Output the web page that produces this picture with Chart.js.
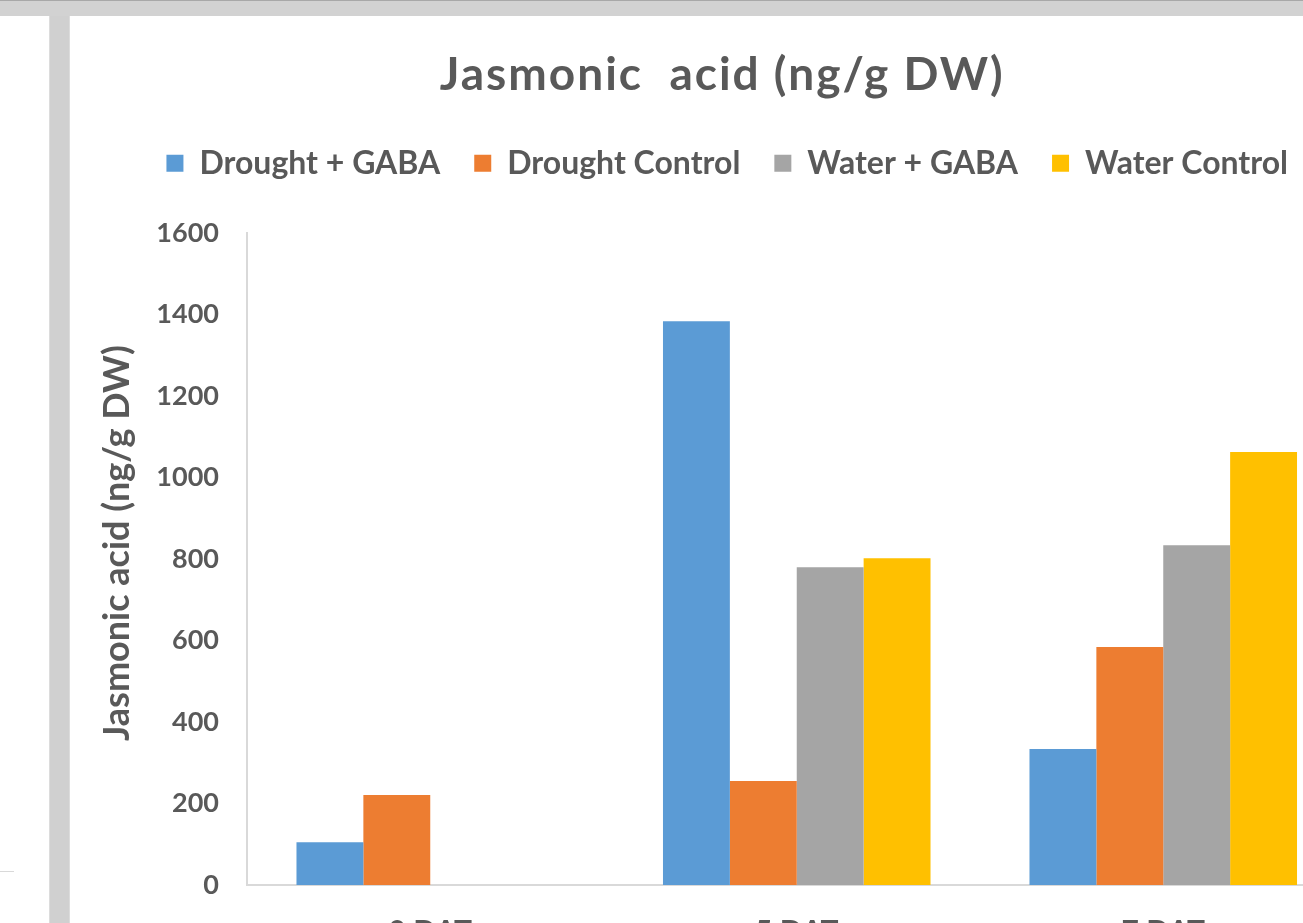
<!DOCTYPE html>
<html>
<head>
<meta charset="utf-8">
<script src="https://cdn.jsdelivr.net/npm/chart.js@4"></script>
<style>
  html, body { margin: 0; padding: 0; background: #fff; overflow: hidden; width: 1303px; height: 923px; }
  .topbar { position: absolute; left: 0; top: 0; width: 1303px; height: 16px; background: #d2d2d2; border-top: 1px solid #a8a8a8; box-sizing: border-box; }
  .sidebar { position: absolute; left: 49px; top: 16px; width: 21px; height: 907px; background: #d0d0d0; border-left: 1px solid #dcdcdc; border-right: 1px solid #dcdcdc; box-sizing: border-box; }
  .leftline { position: absolute; left: 0; top: 871px; width: 14px; height: 1px; background: #d9d9d9; }
  .wrap { position: absolute; left: 70px; top: 16px; }
</style>
</head>
<body>
<div class="topbar"></div>
<div class="sidebar"></div>
<div class="leftline"></div>
<div class="wrap"><canvas id="chart" width="1300" height="940"></canvas></div>
<script>
const categories = ['0 DAT', '5 DAT', '7 DAT'];
const droughtGaba = [105, 1384, 334];
const droughtControl = [221, 255, 584];
const waterGaba = [null, 780, 834];
const waterControl = [null, 802, 1063];
const yTicks = [0, 200, 400, 600, 800, 1000, 1200, 1400, 1600];

const textGray = '#595959';
const font = 'Lato';

// wraps a draw method so it runs shifted by dx, dy
function shifted(obj, name, dx, dy, spacing) {
  const orig = obj[name];
  obj[name] = function () {
    const c = this.ctx;
    c.save();
    c.translate(dx, dy);
    if (spacing) c.letterSpacing = spacing;
    orig.apply(this, arguments);
    c.restore();
  };
}

// Excel-like placement: room under the legend, spaced title, nudged boxes
const layoutTweaks = {
  id: 'layoutTweaks',
  beforeInit(chart) {
    const fit = chart.legend.fit;
    chart.legend.fit = function () {
      fit.bind(chart.legend)();
      this.height += 44;
    };
    shifted(chart.legend, 'draw', 19, 0);
    shifted(chart.titleBlock, 'draw', 14, 0, '2px');
  },
  afterUpdate(chart) {
    const y = chart.scales.y;
    if (!y._nudged) {
      shifted(y, 'drawTitle', 0, -16);
      y._nudged = true;
    }
  }
};

const ctx = document.getElementById('chart').getContext('2d');
new Chart(ctx, {
  type: 'bar',
  data: {
    labels: categories,
    datasets: [
      { label: 'Drought + GABA', data: droughtGaba, backgroundColor: '#5b9bd5' },
      { label: 'Drought Control', data: droughtControl, backgroundColor: '#ed7d31' },
      { label: 'Water + GABA', data: waterGaba, backgroundColor: '#a5a5a5' },
      { label: 'Water Control', data: waterControl, backgroundColor: '#ffc000' }
    ]
  },
  options: {
    responsive: false,
    animation: false,
    layout: { padding: { left: 0, right: 23.5, top: 0, bottom: 0 } },
    datasets: {
      bar: { categoryPercentage: 0.73, barPercentage: 1.0 }
    },
    plugins: {
      title: {
        display: true,
        text: 'Jasmonic  acid (ng/g DW)',
        color: textGray,
        font: { family: font, size: 46, weight: 'bold' },
        padding: { top: 32, bottom: 10 }
      },
      legend: {
        position: 'top',
        labels: {
          color: textGray,
          font: { family: font, size: 32, weight: 'bold' },
          boxWidth: 17,
          boxHeight: 17,
          padding: 34
        }
      },
      tooltip: { enabled: false }
    },
    scales: {
      x: {
        grid: { display: false },
        border: { display: true, color: '#d9d9d9', width: 2 },
        ticks: { color: textGray, font: { family: font, size: 30, weight: 'bold' }, padding: 21 },
        afterFit(scale) { scale.height = 71; }
      },
      y: {
        min: 0,
        max: 1600,
        afterBuildTicks(scale) { scale.ticks = yTicks.map(v => ({ value: v })); },
        grid: { display: false },
        border: { display: true, color: '#d9d9d9', width: 2 },
        ticks: {
          color: textGray,
          font: { family: font, size: 27, weight: 'bold' },
          padding: 20,
          callback: v => String(v)
        },
        title: {
          display: true,
          text: 'Jasmonic acid (ng/g DW)',
          color: textGray,
          font: { family: font, size: 36, weight: 'bold' },
          padding: { top: 26, bottom: 0 }
        },
        afterFit(scale) { scale.width = 177; }
      }
    }
  },
  plugins: [layoutTweaks]
});
</script>
</body>
</html>
